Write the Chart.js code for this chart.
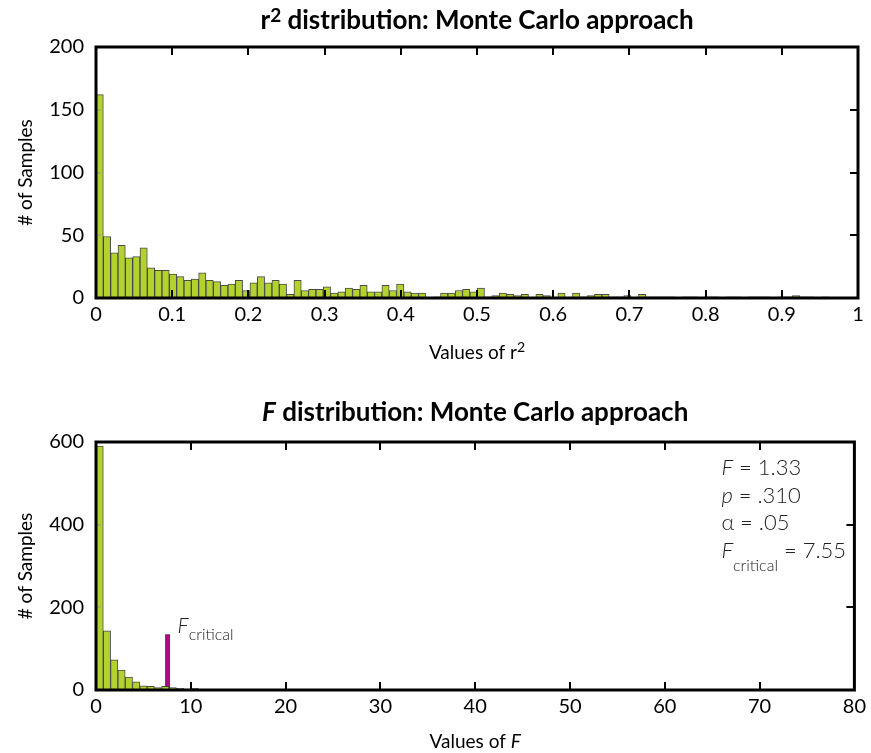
<!DOCTYPE html>
<html>
<head>
<meta charset="utf-8">
<script src="https://cdn.jsdelivr.net/npm/chart.js@4.4.0/dist/chart.umd.min.js"></script>
<style>
body { margin: 0; background: #fff; width: 871px; height: 753px; overflow: hidden; }
.box { position: absolute; left: 0; width: 871px; }
</style>
</head>
<body>
<div class="box" style="top:0;height:376px"><canvas id="r2Chart" width="871" height="376"></canvas></div>
<div class="box" style="top:376px;height:377px"><canvas id="fChart" width="871" height="377"></canvas></div>
<script>
// r^2 histogram, 100 bins
const r2BinWidth = 0.00962;
const r2Counts = [
    162, 49, 36, 42, 32, 33, 40, 24, 22, 22,
    19, 17, 14, 15, 20, 14, 13, 10, 11, 14,
    6, 12, 17, 12, 14, 11, 3, 14, 6, 7,
    7, 9, 4, 5, 8, 7, 10, 5, 5, 10,
    6, 11, 5, 4, 4, 0, 1, 4, 4, 6,
    7, 5, 8, 1, 2, 4, 3, 2, 3, 0,
    3, 2, 0, 4, 0, 4, 1, 2, 3, 3,
    1, 1, 2, 0, 3, 1, 1, 1, 1, 0,
    1, 1, 0, 1, 1, 0, 1, 1, 0, 1,
    1, 1, 0, 1, 1, 2, 1, 1, 0, 1
];
const r2XTicks = [0, 0.1, 0.2, 0.3, 0.4, 0.5, 0.6, 0.7, 0.8, 0.9, 1];
const r2YTicks = [0, 50, 100, 150, 200];

// F histogram (bins beyond these are empty)
const fBinWidth = 0.77;
const fCounts = [590, 143, 73, 48, 31, 20, 10, 9, 6, 9, 6, 4, 2, 4, 1, 1, 0, 0, 0, 0];
const fXTicks = [0, 10, 20, 30, 40, 50, 60, 70, 80];
const fYTicks = [0, 200, 400, 600];

const fCritical = 7.55;
const fCriticalMarkHeight = 135;
const fStatsLabels = ['F', 'p', 'α', 'F'];
const fStatsSubs = ['', '', '', 'critical'];
const fStatsValues = ['1.33', '.310', '.05', '7.55'];

const FONT = 'Lato, "Open Sans", sans-serif';
const barFill = '#b3d230';
const barEdge = 'rgba(55,55,55,0.9)';
const magenta = '#ac0c79';
const noteColor = '#222';

function binPoints(counts, width)
{
    return counts.map((c, i) => ({ x: (i + 0.5) * width, y: c }));
}

// draw a row of text pieces with different fonts / offsets
function drawPieces(ctx, pieces, x, y, align)
{
    let total = 0;
    pieces.forEach(p => { ctx.font = p.font; total += ctx.measureText(p.t).width; });
    let cx = align === 'center' ? x - total / 2 : x;
    ctx.textAlign = 'left';
    pieces.forEach(p => {
        ctx.font = p.font;
        ctx.fillStyle = p.color || '#000';
        ctx.fillText(p.t, cx, y + (p.dy || 0));
        cx += ctx.measureText(p.t).width;
    });
}

const framePlugin = {
    id: 'frame',
    afterDatasetsDraw(chart)
    {
        const ctx = chart.ctx;
        const a = chart.chartArea;
        const xs = chart.scales.x;
        const ys = chart.scales.y;
        ctx.save();
        ctx.lineWidth = 2;
        ctx.strokeStyle = '#000';
        xs.ticks.forEach(t => {
            if (t.value <= xs.min || t.value >= xs.max) return;
            const px = Math.round(xs.getPixelForValue(t.value));
            ctx.beginPath();
            ctx.moveTo(px, a.bottom); ctx.lineTo(px, a.bottom - 8);
            ctx.moveTo(px, a.top); ctx.lineTo(px, a.top + 8);
            ctx.stroke();
        });
        ys.ticks.forEach(t => {
            if (t.value <= ys.min || t.value >= ys.max) return;
            const py = Math.round(ys.getPixelForValue(t.value));
            ctx.strokeStyle = '#000';
            ctx.beginPath();
            ctx.moveTo(a.right, py); ctx.lineTo(a.right - 8, py);
            ctx.stroke();
            ctx.strokeStyle = '#999';
            ctx.lineWidth = 1;
            ctx.beginPath();
            ctx.moveTo(a.left, py); ctx.lineTo(a.left + 5, py);
            ctx.stroke();
            ctx.lineWidth = 2;
        });
        ctx.lineWidth = 3;
        ctx.strokeStyle = '#000';
        ctx.strokeRect(a.left, a.top, a.width, a.height);
        ctx.restore();
    },
    afterDraw(chart, args, opts)
    {
        const ctx = chart.ctx;
        ctx.save();
        ctx.textBaseline = 'alphabetic';
        (opts.rows || []).forEach(r => {
            const pos = r.at(chart);
            drawPieces(ctx, r.pieces, pos.x, pos.y, r.align);
        });
        ctx.restore();
    }
};

function makeChart(id, points, binW, xTicks, yTicks, pad, extraSets, rows)
{
    const ctx = document.getElementById(id).getContext('2d');
    const datasets = [{
        type: 'bar',
        data: points,
        backgroundColor: barFill,
        borderColor: barEdge,
        borderWidth: 1,
        borderSkipped: false,
        barPercentage: 1,
        categoryPercentage: 1
    }].concat(extraSets);

    return new Chart(ctx, {
        type: 'bar',
        data: { datasets: datasets },
        options: {
            responsive: false,
            animation: false,
            layout: { padding: pad },
            plugins: {
                legend: { display: false },
                tooltip: { enabled: false },
                frame: { rows: rows }
            },
            scales: {
                x: {
                    type: 'linear',
                    offset: false,
                    min: xTicks[0],
                    max: xTicks[xTicks.length - 1],
                    afterBuildTicks: s => { s.ticks = xTicks.map(v => ({ value: v })); },
                    afterFit: s => { s.height = 40; },
                    grid: { display: false, drawTicks: false },
                    border: { display: false },
                    ticks: {
                        padding: 5,
                        color: '#000',
                        font: { family: FONT, size: 20 },
                        maxRotation: 0,
                        autoSkip: false,
                        callback: v => String(v)
                    }
                },
                y: {
                    min: yTicks[0],
                    max: yTicks[yTicks.length - 1],
                    afterBuildTicks: s => { s.ticks = yTicks.map(v => ({ value: v })); },
                    afterFit: s => { s.width = 96; },
                    grid: { display: false, drawTicks: false },
                    border: { display: false },
                    ticks: {
                        padding: 12,
                        color: '#000',
                        font: { family: FONT, size: 20 }
                    },
                    title: {
                        display: true,
                        text: '# of Samples',
                        color: '#000',
                        font: { family: FONT, size: 19 },
                        padding: { top: 14, bottom: 0 }
                    }
                }
            }
        },
        plugins: [framePlugin]
    });
}

const midX = c => (c.chartArea.left + c.chartArea.right) / 2;

makeChart('r2Chart', binPoints(r2Counts, r2BinWidth), r2BinWidth, r2XTicks, r2YTicks,
    { top: 47, right: 13, bottom: 38, left: 0 }, [],
    [
        { align: 'center', at: c => ({ x: midX(c), y: 29 }),
          pieces: [{ t: 'r', font: 'bold 26px ' + FONT },
                   { t: '2', font: 'bold 19px ' + FONT, dy: -7 },
                   { t: ' distribution: Monte Carlo approach', font: 'bold 26px ' + FONT }] },
        { align: 'center', at: c => ({ x: midX(c), y: 359 }),
          pieces: [{ t: 'Values of r', font: '19px ' + FONT },
                   { t: '2', font: '14px ' + FONT, dy: -7 }] }
    ]);

const fRows = [
    { align: 'center', at: c => ({ x: midX(c), y: 45 }),
      pieces: [{ t: 'F', font: 'italic bold 26px ' + FONT },
               { t: ' distribution: Monte Carlo approach', font: 'bold 26px ' + FONT }] },
    { align: 'center', at: c => ({ x: midX(c), y: 372 }),
      pieces: [{ t: 'Values of ', font: '19px ' + FONT },
               { t: 'F', font: 'italic 19px ' + FONT }] },
    { align: 'left',
      at: c => ({ x: c.scales.x.getPixelForValue(fCritical) + 10, y: c.scales.y.getPixelForValue(fCriticalMarkHeight) - 1 }),
      pieces: [{ t: 'F', font: 'italic 300 21px ' + FONT, color: noteColor },
               { t: 'critical', font: '300 16px ' + FONT, color: noteColor, dy: 7 }] }
];
fStatsLabels.forEach((lab, i) => {
    const pieces = [{ t: lab, font: (lab === 'α' ? '' : 'italic ') + '300 22px ' + FONT, color: noteColor }];
    if (fStatsSubs[i]) pieces.push({ t: fStatsSubs[i], font: '300 16px ' + FONT, color: noteColor, dy: 13 });
    pieces.push({ t: ' = ' + fStatsValues[i], font: '300 22px ' + FONT, color: noteColor });
    fRows.push({ align: 'left', at: c => ({ x: c.chartArea.right - 133, y: c.chartArea.top + 33 + i * 27.5 }), pieces: pieces });
});

makeChart('fChart', binPoints(fCounts, fBinWidth), fBinWidth, fXTicks, fYTicks,
    { top: 66, right: 13, bottom: 23, left: 0 },
    [{
        type: 'line',
        data: [{ x: fCritical, y: 0 }, { x: fCritical, y: fCriticalMarkHeight }],
        borderColor: magenta,
        borderWidth: 5,
        borderCapStyle: 'butt',
        pointRadius: 0
    }],
    fRows);
</script>
</body>
</html>
